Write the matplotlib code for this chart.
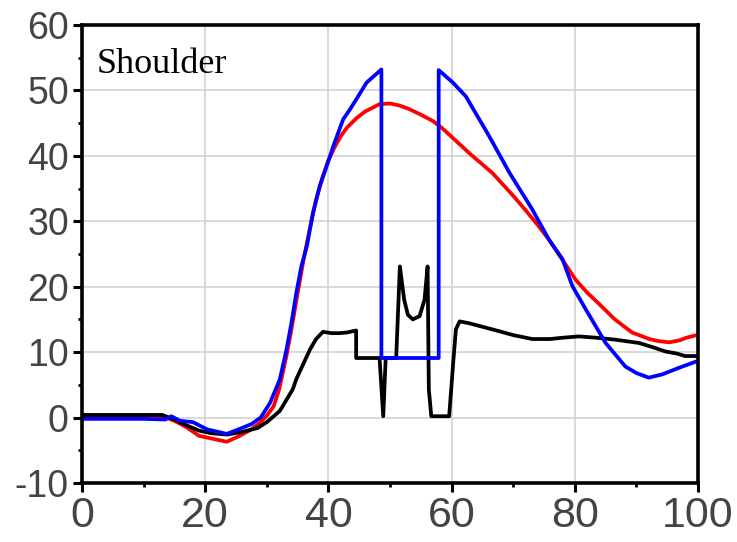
import numpy as np
import matplotlib.pyplot as plt
from matplotlib.ticker import MultipleLocator

plt.rcParams['axes.unicode_minus'] = False

# red curve
red_x = [0, 5, 10, 13, 15, 17, 19, 21, 23.5, 25.6, 27.5, 28.9, 30, 31.1, 32, 33.2, 34, 35, 36,
         37, 38, 39, 40, 41, 42, 43, 44.6, 46, 48.3, 50, 51.5, 53, 55, 57, 58.5, 60.7, 63,
         66.6, 69.9, 72, 74, 75.8, 78, 80.1, 82, 83.8, 86.5, 89.3, 92.1, 93.5, 95.3, 97, 98.1,
         99.8]
red_y = [0.3, 0.3, 0.3, 0.2, -0.5, -1.5, -2.8, -3.2, -3.7, -2.8, -1.8, -0.8, 0.3, 1.7, 4.3,
         9.5, 13.5, 19, 24.3, 29, 33.3, 36.6, 39.3, 41.3, 43, 44.3, 45.8, 46.8, 47.9, 48.0, 47.7,
         47.2, 46.3, 45.3, 44.2, 42.3, 40.3, 37.4, 34.0, 31.7, 29.4, 27.2, 24.1, 21.1, 19.1,
         17.5, 15.0, 13.0, 12.0, 11.7, 11.5, 11.8, 12.2, 12.6]

# blue curve
blue_x = [0, 5, 10, 13.5, 14.5, 15.9, 18, 20.3, 23.5, 25.7, 27.5, 29, 30.5, 32.1, 33.2, 34.0,
          34.8, 35.6, 36.5, 37.5, 38.6, 39.7, 40.8, 42.4, 43.5, 44.5, 46.2, 48.6, 48.6, 57.9,
          57.9, 60.2, 62.3, 66.1, 69.4, 73.1, 75.8, 78.0, 79.6, 81.8, 85.0, 88.2, 90, 92.0,
          94.2, 96.9, 99.8]
blue_y = [-0.2, -0.2, -0.2, -0.3, 0.2, -0.5, -0.7, -1.8, -2.5, -1.7, -1.0, 0, 2.2, 5.8, 10.4,
          14.5, 19.1, 23.1, 26.2, 31.3, 35.4, 38.4, 41.5, 45.6, 47.1, 48.6, 51.2, 53.2, 9.1, 9.1,
          53.1, 51.2, 49.1, 43.0, 37.4, 31.8, 27.2, 24.2, 20.1, 16.5, 11.4, 7.8, 6.8, 6.1,
          6.6, 7.6, 8.6]

# black curve
black_x = [0, 5, 10, 13, 15, 17, 19, 21, 23.5, 26, 28.5, 30, 32.1, 34.2, 34.8, 37.0, 38, 39.1,
           40.5, 41.8, 43, 44.5, 44.5, 48.3, 48.9, 49.3, 51.0, 51.6, 52.3, 52.9, 53.7, 54.8,
           55.6, 56.1, 56.3, 56.7, 59.6, 60.3, 60.7, 61.3, 62.9, 64.5, 67.7, 70, 73.1, 76,
           78, 80.7, 83.5, 86.6, 90.4, 92.5, 94.7, 96.5, 97.9, 99.8]
black_y = [0.4, 0.4, 0.4, 0.4, -0.3, -1.2, -2.0, -2.4, -2.6, -2.2, -1.6, -0.7, 1.0, 4.3, 5.9,
           10.4, 12.0, 13.1, 12.9, 12.9, 13.0, 13.3, 9.1, 9.1, 0.2, 9.1, 9.1, 23.1, 18.0, 15.7,
           15.0, 15.5, 18.0, 23.1, 4.3, 0.2, 0.2, 8.9, 13.5, 14.7, 14.4, 14.0, 13.2, 12.6,
           12.0, 12.0, 12.2, 12.4, 12.2, 11.9, 11.4, 10.8, 10.1, 9.8, 9.4, 9.4]

fig = plt.figure(figsize=(7.37, 5.42), dpi=100)
ax = fig.add_axes([0.1113, 0.1089, 0.8358, 0.845])

ax.plot(red_x, red_y, color='#ff0000', linewidth=2.7)
ax.plot(black_x, black_y, color='black', linewidth=2.7)
ax.plot(blue_x, blue_y, color='#0000ff', linewidth=2.7)

ax.set_xlim(0, 100)
ax.set_ylim(-10, 60)
ax.xaxis.set_major_locator(MultipleLocator(20))
ax.xaxis.set_minor_locator(MultipleLocator(10))
ax.yaxis.set_major_locator(MultipleLocator(10))
ax.yaxis.set_minor_locator(MultipleLocator(5))
ax.grid(True, which='major', color='#d0d0d0', linewidth=1.1)
ax.set_axisbelow(True)

for s in ax.spines.values():
    s.set_linewidth(2.6)
ax.tick_params(which='major', direction='out', length=6.5, width=2.2, colors='black',
               labelcolor='#444444')
ax.tick_params(which='minor', direction='out', length=3, width=2.0, colors='black')
ax.tick_params(axis='y', which='major', labelsize=27, pad=3)
ax.tick_params(axis='x', which='major', labelsize=31, pad=3)
for lab in ax.get_xticklabels() + ax.get_yticklabels():
    lab.set_family('Liberation Sans')

ax.text(0.023, 0.895, 'Shoulder', transform=ax.transAxes, fontsize=26,
        family='Liberation Serif', va='baseline', ha='left')

plt.savefig('out.png', dpi=100)
